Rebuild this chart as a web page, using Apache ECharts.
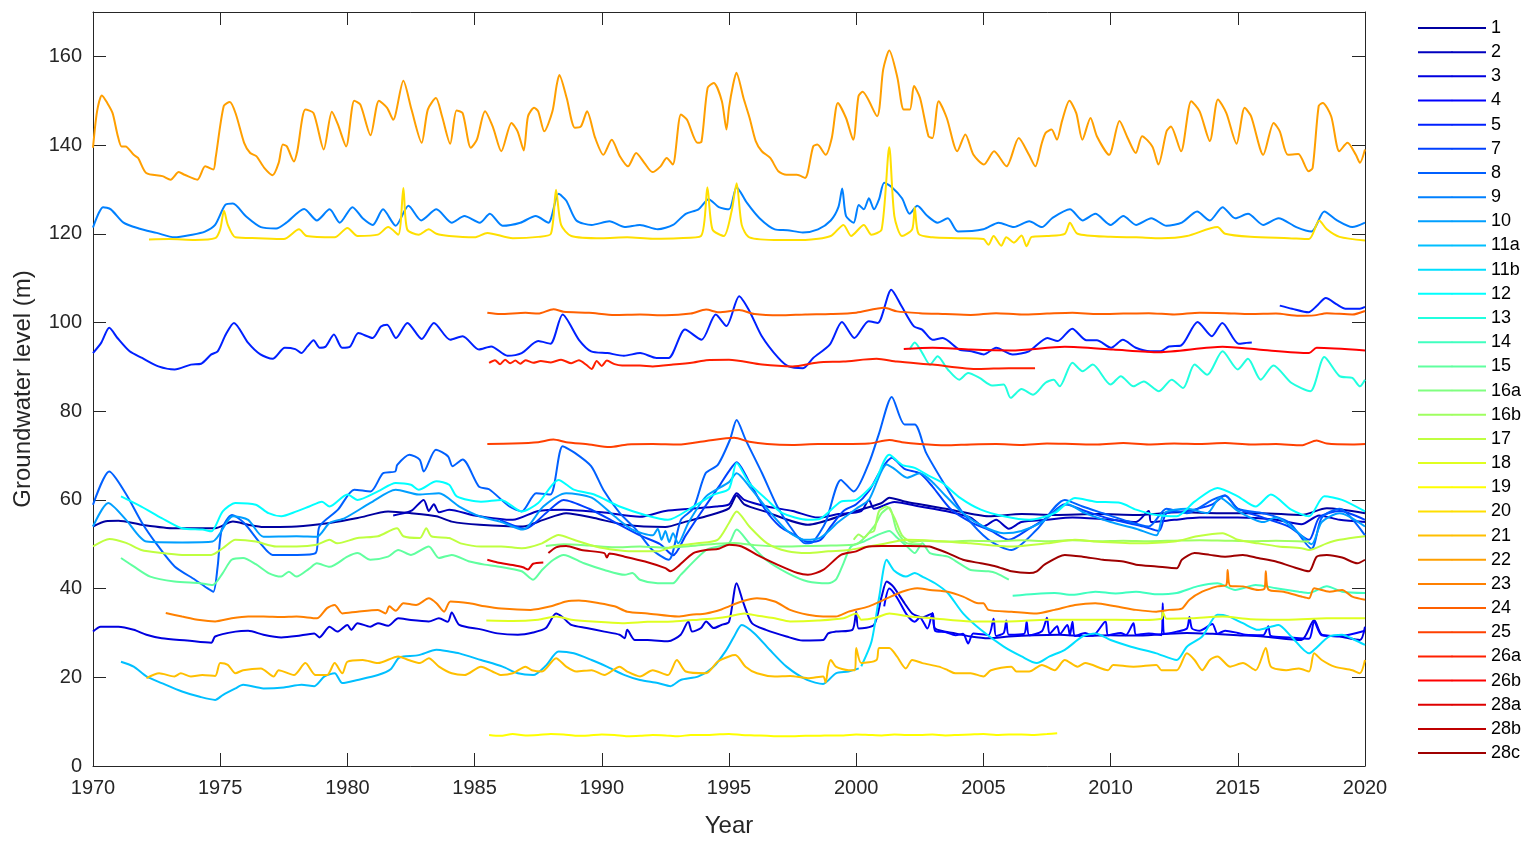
<!DOCTYPE html>
<html>
<head>
<meta charset="utf-8">
<script src="https://cdn.jsdelivr.net/npm/echarts@6/dist/echarts.min.js"></script>
<style>
html,body{margin:0;padding:0;background:#fff}
#chart{width:1536px;height:843px}
</style>
</head>
<body>
<div id="chart"></div>
<script>
// Well names, in legend order
const wellNames = ['1','2','3','4','5','7','8','9','10','11a','11b','12','13','14','15','16a','16b','17','18','19','20','21','22','23','24','25','26a','26b','28a','28b','28c'];

// Year ticks and level ticks
const yearTicks = [1970,1975,1980,1985,1990,1995,2000,2005,2010,2015,2020];
const levelTicks = [0,20,40,60,80,100,120,140,160];

// Groundwater level series: [year, level (m)]
const w1 = [[1970,54.0],[1970.5,55.2],[1971,55.3],[1971.9,54.4],[1973.2,53.6],[1974.8,53.6],[1975.5,55.1],[1976.1,54.4],[1976.7,53.9],[1978,54.0],[1979.3,54.8],[1980.4,55.9],[1981.6,57.4],[1982.5,57.0],[1983.5,56.3],[1984.1,55.1],[1985.2,54.4],[1986.9,54.0],[1987.7,55.5],[1988.6,57.0],[1989.7,55.9],[1990.9,54.4],[1992.5,53.9],[1993.3,55.1],[1994.1,56.3],[1995.0,58.1],[1995.3,61.0],[1995.6,59],[1996.4,57.4],[1998.1,54.4],[1999.7,57.0],[2001.0,59.3],[2001.3,60.5],[2002,59.5],[2003.7,57.8],[2005.2,56.3],[2006.5,56.8],[2007.8,56.6],[2009.5,56.8],[2011,56.6],[2012.7,57.2],[2014.3,57.0],[2015.9,57.0],[2017.5,56.6],[2018.5,58.1],[2020,57.0]];
const w2 = [[1981.8,56.5],[1982.5,57.5],[1983,60.0],[1983.2,57.5],[1983.4,59],[1983.6,57.2],[1984,57.8],[1985,56.5],[1986.5,55.5],[1987.5,57.5],[1988.5,57.8],[1990,57.2],[1991.5,56.2],[1992.5,57.5],[1993.5,58.0],[1994.5,58.5],[1995.0,59.0],[1995.3,61.5],[1995.6,60],[1996.5,58.5],[1997.5,57.5],[1998.5,56.0],[1999.3,56.8],[2000.2,57.5],[2000.5,60.0],[2000.7,58],[2001.5,59.5],[2002.5,58.5],[2003.5,57.5],[2004.5,56],[2005,54],[2005.5,55.5],[2006,53.5],[2006.5,55.0],[2007.5,55.5],[2008.5,56],[2010,55.5],[2011,55.0],[2011.5,57.5],[2011.6,55],[2012.5,55.5],[2013.5,56],[2015,56],[2016.5,55.5],[2017.5,54.5],[2018.2,56.5],[2019,55.5],[2020,55.0]];
const w3 = [[1970,30.3],[1970.3,31.4],[1971,31.4],[1971.6,30.7],[1972.1,29.6],[1972.7,28.8],[1973.7,28.3],[1974.65,27.8],[1974.8,29.2],[1975.6,30.3],[1976.1,30.5],[1976.7,29.6],[1977.4,29.0],[1978,29.3],[1978.7,29.9],[1978.9,29.0],[1979.3,31.4],[1979.6,30.3],[1980,31.8],[1980.15,30.7],[1980.4,32.2],[1980.9,31.4],[1981.2,32.2],[1981.6,31.6],[1982,33.3],[1982.5,32.9],[1983.2,32.6],[1983.6,33.3],[1983.95,32.5],[1984.1,34.6],[1984.4,31.8],[1985.25,30.8],[1985.9,29.9],[1986.7,29.6],[1987.3,30.1],[1987.8,31.1],[1988.2,34.4],[1988.45,33.6],[1988.8,31.8],[1989.4,31.1],[1990.1,30.3],[1990.7,29.6],[1990.9,28.8],[1991.0,30.7],[1991.3,28.4],[1991.8,28.4],[1992.6,28.1],[1993.1,29.6],[1993.4,32.6],[1993.55,30.3],[1993.9,31.1],[1994.1,32.6],[1994.4,31.1],[1994.7,31.8],[1995.0,32.5],[1995.3,41.2],[1995.57,36.7],[1995.9,32.2],[1996.45,30.7],[1997.26,29.2],[1997.9,28.3],[1998.7,28.4],[1998.9,29.9],[1999.2,30.3],[1999.85,30.7],[2000.0,34.8],[2000.1,31.0],[2000.7,31.8],[2001.0,38.2],[2001.2,41.6],[2001.45,40.5],[2001.9,36.7],[2002.2,34.4],[2002.6,33.5],[2003.0,34.4],[2003.1,31.0],[2003.9,29.9],[2004.5,29.2],[2005.2,28.8],[2006,29.2],[2007,29.5],[2008,29.6],[2009,29.3],[2010,29.5],[2011,29.4],[2012,29.7],[2013,30.0],[2014,29.8],[2015,29.5],[2016,29.2],[2017.5,28.4],[2018.0,32.9],[2018.3,29.6],[2019,29.2],[2019.8,28.4],[2020,31.4]];
const w4 = [[2001.1,36],[2001.3,40],[2001.6,38],[2002.0,34],[2002.3,32.5],[2002.5,33.5],[2002.8,31],[2003.0,34.5],[2003.1,30.5],[2003.5,30.2],[2003.9,29.5],[2004.2,29.8],[2004.4,27.6],[2004.6,29.9],[2005.2,29.5],[2005.4,33.2],[2005.5,29.3],[2005.8,30],[2005.9,32.8],[2006,29.6],[2006.6,29.8],[2006.7,32.5],[2006.8,29.5],[2007.3,30.4],[2007.5,33.4],[2007.6,29.8],[2007.9,31.5],[2008.0,29.7],[2008.3,31.8],[2008.4,29.5],[2008.5,32.5],[2008.6,29.3],[2009.0,30],[2009.3,29.4],[2009.8,32.6],[2009.9,29.5],[2010.4,30],[2010.6,29.5],[2010.9,32.2],[2011,29.6],[2011.5,29.9],[2012.0,29.5],[2012.05,36.7],[2012.1,29.8],[2012.6,30.3],[2013.0,31],[2013.1,33.6],[2013.2,31],[2013.5,30.5],[2014,32],[2014.2,29.8],[2014.5,30.5],[2015,30],[2015.3,29.6],[2016,29.5],[2016.2,31.5],[2016.3,29.3],[2017,29],[2017.8,28.7],[2018.0,32.6],[2018.3,29.5],[2019,29.3],[2020,30.5]];
const w5 = [[1970,93.1],[1970.32,95.4],[1970.64,98.8],[1970.96,96.5],[1971.44,93.5],[1971.93,92.0],[1972.57,90.1],[1973.21,89.4],[1973.85,90.5],[1974.25,90.7],[1974.65,92.8],[1974.9,93.5],[1975.22,97.3],[1975.54,99.9],[1976.1,95.4],[1976.58,92.8],[1977.06,91.8],[1977.54,94.3],[1977.95,94.0],[1978.19,93.1],[1978.43,94.6],[1978.67,96.0],[1978.91,94.3],[1979.15,94.6],[1979.47,97.3],[1979.79,94.3],[1980.11,94.6],[1980.43,97.6],[1980.99,96.5],[1981.32,99.1],[1981.56,99.5],[1981.91,96.5],[1982.36,99.9],[1982.92,96.3],[1983.4,99.9],[1984.04,96.1],[1984.53,96.9],[1985.17,93.9],[1985.65,94.6],[1986.29,92.5],[1986.85,93.1],[1987.5,95.8],[1987.98,95.2],[1988.46,101.8],[1989.1,96.1],[1989.58,93.5],[1990.22,93.1],[1990.87,92.5],[1991.51,93.1],[1992.15,92.0],[1992.63,92.0],[1993.27,98.4],[1993.92,96.1],[1994.48,101.8],[1994.9,99.2],[1995.4,105.9],[1995.81,102.5],[1996.29,96.9],[1996.94,92.0],[1997.34,90.1],[1997.91,89.7],[1998.31,92.0],[1998.96,95.0],[1999.44,100.1],[1999.93,96.5],[2000.49,100.3],[2000.85,99.9],[2001.38,107.4],[2001.78,103.7],[2002.27,99.1],[2002.59,98.4],[2003.0,96.1],[2003.4,96.5],[2004.05,93.9],[2004.53,93.5],[2005.02,92.8],[2005.5,94.3],[2006.15,92.8],[2006.79,93.5],[2007.52,96.5],[2007.92,95.8],[2008.49,98.6],[2009.05,96.0],[2009.46,96.0],[2010.02,94.3],[2010.48,96.1],[2010.99,94.3],[2011.56,93.5],[2011.96,93.5],[2012.29,94.6],[2012.77,94.8],[2013.42,100.1],[2013.98,96.9],[2014.39,99.9],[2015.03,95.2],[2015.35,95.4],[2015.55,95.5],[2016.1,null],[2016.65,103.8],[2017.13,103.1],[2017.78,102.3],[2018.1,103.7],[2018.46,105.5],[2018.91,104.0],[2019.23,103.1],[2019.8,103.1],[2020,103.5]];
const w7 = [[1986.0,55.5],[1987,53.5],[1987.8,57],[1988.5,60],[1989.5,58],[1990.5,55],[1991.5,52],[1992.3,50],[1992.8,47.5],[1993.3,52],[1994.0,58],[1994.6,63],[1995.0,66.5],[1995.3,68.5],[1995.8,64],[1996.4,58],[1997.0,54],[1997.6,52],[1998.1,50.5],[1998.6,51],[1999.0,54],[1999.5,57.5],[2000.0,59],[2000.5,62],[2001.0,67],[2001.4,69.5],[2001.9,67],[2002.5,66],[2003.0,63],[2003.7,58],[2004.5,55],[2005.3,53],[2006.0,51],[2006.8,53.5],[2007.5,56],[2008.2,59],[2009.0,57.5],[2009.8,56],[2010.5,55],[2011.3,54],[2011.9,53],[2012.2,57],[2013,57.5],[2014,59],[2014.5,61],[2015,58],[2016,56],[2017,54],[2017.8,51],[2018.2,56],[2019,57.5],[2020,55.5]];
const w8 = [[1970,58.9],[1970.64,66.4],[1971.28,61.5],[1971.93,54.8],[1972.57,49.5],[1973.21,45.0],[1974.01,42.0],[1974.49,40.1],[1974.73,39.3],[1974.9,45.0],[1975.06,53.3],[1975.46,56.6],[1975.94,54.8],[1976.58,50.2],[1977.06,47.6],[1978.03,47.6],[1978.75,48.0],[1978.9,54.0],[1979.63,57.8],[1980.27,62.3],[1980.91,61.9],[1981.4,66.0],[1981.88,66.4],[1981.96,67.9],[1982.44,70.2],[1982.84,69.1],[1983.0,66.4],[1983.48,71.3],[1983.96,69.8],[1984.13,67.6],[1984.53,69.1],[1985.17,63.0],[1985.57,62.4],[1986.37,58.5],[1986.85,57.4],[1987.42,61.5],[1987.98,61.2],[1988.46,72.1],[1988.94,70.6],[1989.58,67.6],[1990.06,62.3],[1990.71,57.0],[1991.35,53.3],[1991.99,48.7],[1992.63,46.5],[1993.11,55.5],[1993.6,58.1],[1994.08,66.0],[1994.56,67.9],[1995.04,73.6],[1995.3,78.0],[1995.65,73.6],[1996.3,66.0],[1996.9,58.5],[1997.4,54.0],[1998.0,50.2],[1998.3,50.5],[1998.8,55],[1999.4,64.5],[1999.9,61.9],[2000.5,68.3],[2000.9,75],[2001.4,83.2],[2001.9,77],[2002.3,77.0],[2002.75,70.6],[2003.6,62.3],[2004.2,57.0],[2005.2,51.0],[2006.1,48.7],[2007.1,53.3],[2008.2,60.0],[2008.9,58.5],[2009.7,57],[2010.5,55.5],[2011.5,54],[2012.2,58],[2013,57],[2014,60],[2014.5,61],[2015,58],[2016,57],[2017,55],[2017.9,49],[2018.3,56],[2019,58],[2020,52]];
const w9 = [[1970,121.4],[1970.4,126.0],[1970.7,125.5],[1971.2,122.5],[1971.8,121.2],[1972.5,120.2],[1973.2,119.2],[1973.9,119.8],[1974.4,120.5],[1974.8,122.0],[1975.2,126.5],[1975.5,126.8],[1976.0,124.0],[1976.6,121.5],[1977.2,121.2],[1977.6,122.5],[1978.3,125.6],[1978.8,123.0],[1979.3,125.5],[1979.7,122.5],[1980.2,126.0],[1980.6,123.5],[1981.0,122.0],[1981.4,125.5],[1981.9,121.8],[1982.4,126.3],[1982.9,123.0],[1983.5,125.5],[1984.1,122.5],[1984.6,124.0],[1985.2,122.5],[1985.6,124.5],[1986.1,121.8],[1986.8,122.5],[1987.4,124.0],[1987.9,122.5],[1988.3,129.0],[1988.6,127.5],[1989.0,123.0],[1989.6,122.0],[1990.3,122.8],[1990.9,121.5],[1991.5,122.0],[1992.2,121.0],[1992.8,122.0],[1993.3,124.5],[1993.8,125.5],[1994.2,127.8],[1994.6,126.0],[1995.0,125.5],[1995.3,130.5],[1995.7,127.0],[1996.2,123.5],[1996.8,121.0],[1997.3,120.8],[1997.9,120.3],[1998.5,121.0],[1999.0,123.0],[1999.3,126.0],[1999.45,130.2],[1999.6,124.0],[1999.9,122.5],[2000.1,126.5],[2000.3,125.5],[2000.5,128.0],[2000.7,125.5],[2000.9,127.8],[2001.1,131.5],[2001.4,130.5],[2001.8,128.0],[2002.1,124.5],[2002.4,126.3],[2002.8,124.0],[2003.2,122.5],[2003.6,123.5],[2004.0,120.5],[2005,121],[2005.6,122.5],[2006.2,121.5],[2006.8,122.8],[2007.3,121.5],[2007.7,123.5],[2008.4,125.5],[2008.9,123],[2009.4,124.5],[2010,122],[2010.5,124],[2011,122],[2011.6,123.5],[2012.2,121.8],[2012.8,122.5],[2013.4,125],[2013.9,123],[2014.4,126],[2014.9,123.5],[2015.4,124.5],[2016,122],[2016.6,123.5],[2017.3,121.5],[2017.9,120.5],[2018.4,125],[2018.9,123],[2019.5,121.5],[2020,122.5]];
const w10 = [[1970,54],[1970.6,59.3],[1971.3,55.5],[1972.1,50.6],[1973.5,50.4],[1974.7,50.6],[1975.5,56.3],[1976.1,55.5],[1976.7,51.7],[1978,51.8],[1978.8,51.7],[1979.3,54.8],[1979.9,55.9],[1980.9,59.3],[1981.9,62.3],[1982.8,61.2],[1983.6,61.5],[1984.4,58.5],[1985.2,56.3],[1986,55.1],[1986.9,53.3],[1987.7,58.5],[1988.6,61.5],[1989.6,60.5],[1990.5,56.3],[1991.2,53.3],[1992,52],[1992.2,53.5],[1992.35,51],[1992.5,53],[1992.65,50.5],[1992.8,52.5],[1993,50.2],[1993.4,54.8],[1994.1,60.8],[1995,64],[1995.3,66],[1995.8,63],[1996.5,58],[1997.3,53],[1998,51],[1998.6,51.5],[1999.3,55],[2000,58],[2000.5,60],[2001.2,68],[2001.5,67],[2002,65],[2002.5,66],[2003,64],[2003.5,61],[2004.2,57],[2005,54],[2005.8,52.5],[2006.5,53],[2007.3,55],[2008.3,59],[2009,57],[2010,55],[2011,53.5],[2011.8,52],[2012.1,57],[2013,58],[2013.8,57],[2014.3,60.5],[2015,57.5],[2016,55],[2016.5,56],[2017.3,53],[2017.9,50],[2018.3,55],[2019,57],[2020,54]];
const w11a = [[1971.1,23.5],[1971.6,22.4],[1972.1,20.2],[1972.7,18.7],[1973.5,16.8],[1974.2,15.6],[1974.8,14.9],[1975.1,16.0],[1975.6,17.5],[1975.9,18.3],[1976.7,17.5],[1977.5,17.7],[1978.2,18.3],[1978.7,18.0],[1979.1,20.2],[1979.5,20.9],[1979.8,18.7],[1980.4,19.4],[1981.2,20.5],[1981.7,21.8],[1982.0,24.3],[1982.2,24.7],[1982.8,25.0],[1983.5,26.2],[1984.0,25.8],[1984.4,25.4],[1985.25,23.9],[1986.1,22.4],[1986.7,20.9],[1987.3,20.5],[1987.8,22.6],[1988.3,25.8],[1988.9,25.4],[1989.6,23.9],[1990.2,22.4],[1990.9,20.5],[1991.5,19.4],[1992.2,18.7],[1992.7,18.0],[1993.1,19.4],[1993.8,20.2],[1994.4,22.4],[1994.9,26.2],[1995.2,29.2],[1995.5,31.8],[1996.0,29.9],[1996.6,26.2],[1997.26,22.4],[1998.07,19.4],[1998.7,18.5],[1999.2,20.9],[1999.7,21.3],[2000.1,22.0]];
const w11b = [[2000.2,22.5],[2000.6,28],[2000.9,38],[2001.2,46.5],[2001.5,44],[2001.95,42.7],[2002.3,43.5],[2002.6,42.7],[2003.1,41.2],[2003.6,39.0],[2004.2,34.4],[2004.9,30.7],[2005.8,26.9],[2006.5,24.7],[2007.1,23.2],[2007.6,24.7],[2008.2,26.2],[2008.9,29.2],[2009.4,29.9],[2010.0,28.4],[2010.8,26.9],[2011.8,25.4],[2012.6,23.9],[2013.0,26.9],[2013.6,29.2],[2014.2,34.1],[2014.6,33.8],[2015.2,32.2],[2015.8,30.7],[2016.3,31.4],[2016.6,31.8],[2017.1,29.2],[2017.8,25.4],[2018.0,26.2],[2018.6,29.2],[2019.1,29.6],[2019.6,28.4],[2020,27.3]];
const w12 = [[1971.1,60.8],[1971.9,58.5],[1972.7,55.9],[1973.5,53.6],[1974.3,53.3],[1974.65,52.9],[1975.1,57.4],[1975.6,59.3],[1976.4,58.9],[1976.9,57.0],[1977.4,56.3],[1978.0,57.4],[1978.5,58.5],[1979.0,59.6],[1979.3,58.5],[1980.0,61.2],[1980.4,60.0],[1981.2,61.9],[1981.9,63.8],[1982.5,63.4],[1982.8,62.3],[1983.5,64.2],[1984.0,63.4],[1984.3,60.8],[1985.25,59.6],[1986.05,60.0],[1986.85,57.4],[1987.5,59.3],[1988.3,64.5],[1988.9,62.3],[1989.7,61.2],[1990.7,58.5],[1991.7,56.6],[1992.6,55.5],[1993.6,58.5],[1994.4,61.2],[1995.0,62.5],[1995.3,68.3],[1995.8,63.8],[1996.5,60.0],[1997.1,57.0],[1998.1,55.5],[1998.6,55.8],[1999.4,59.6],[2000.0,60.0],[2000.7,63.8],[2001.3,70.2],[2001.8,67.9],[2002.3,67.2],[2002.9,65.3],[2003.4,63.8],[2004.1,60.4],[2004.9,57.8],[2005.8,56.3],[2006.8,55.5],[2007.8,57.0],[2008.6,60.4],[2009.4,59.6],[2010.4,59.3],[2011,57.8],[2011.8,56.6],[2012.6,56.3],[2013.3,59.6],[2014.2,62.7],[2015.0,60.8],[2015.7,58.5],[2016.3,61.2],[2017.1,57.8],[2017.8,56.3],[2018.4,60.8],[2019.1,60.0],[2020,57.4]];
const w13 = [[2002.1,93.9],[2002.3,95.5],[2002.6,93.1],[2002.9,90.5],[2003.2,92.4],[2003.6,89.4],[2004.05,87.1],[2004.4,88.6],[2004.85,87.5],[2005.34,85.8],[2005.8,86.0],[2006.07,83.0],[2006.5,85.0],[2006.95,83.7],[2007.44,86.4],[2007.76,87.1],[2008.0,85.6],[2008.5,90.9],[2008.9,89.0],[2009.3,90.5],[2010.0,86.0],[2010.4,87.9],[2010.9,85.6],[2011.3,86.7],[2011.9,84.5],[2012.4,87.1],[2012.85,85.2],[2013.3,90.5],[2013.8,88.2],[2014.4,93.5],[2015.0,89.4],[2015.4,91.8],[2015.9,87.1],[2016.4,90.3],[2017.1,86.4],[2017.85,84.5],[2018.4,92.2],[2019.0,87.9],[2019.5,87.5],[2019.8,85.6],[2020,87.1]];
const w14 = [[2006.15,38.4],[2007,38.8],[2007.8,39.0],[2008.5,38.6],[2009.4,39.3],[2010.2,38.9],[2011,39.3],[2011.8,38.7],[2012.6,39.0],[2013.4,40.5],[2014.2,41.2],[2014.9,39.7],[2015.7,40.8],[2016.5,40.1],[2017.4,39.3],[2017.8,39.0],[2018.5,40.5],[2019.1,39.3],[2020,39.0]];
const w15 = [[1971.1,46.9],[1971.6,45.0],[1972.25,42.7],[1973.2,41.6],[1974.2,41.2],[1974.7,40.8],[1975.1,43.5],[1975.45,46.5],[1975.9,46.9],[1976.4,45.5],[1976.9,43.5],[1977.4,42.7],[1977.7,43.8],[1978.0,42.7],[1978.5,44.5],[1978.8,45.7],[1979.3,44.9],[1980.0,47.2],[1980.4,48.0],[1980.9,46.5],[1981.6,47.2],[1982.0,48.7],[1982.5,47.6],[1983.2,49.5],[1983.6,46.9],[1984.1,47.6],[1984.8,46.1],[1985.4,45.4],[1985.9,45.0],[1986.85,43.9],[1987.3,42.0],[1987.65,44.2],[1988.1,46.5],[1988.5,47.6],[1989.3,45.7],[1990.1,44.2],[1990.9,43.1],[1991.2,43.5],[1991.5,42.0],[1992.2,41.2],[1992.8,41.2],[1993.1,43.1],[1994.1,48.7],[1994.6,49.5],[1995.0,50.2],[1995.3,53.3],[1995.8,50.2],[1996.45,46.5],[1997.3,43.5],[1998.1,41.6],[1998.9,41.2],[1999.2,42.0],[1999.5,45.7],[1999.8,49.5],[2000.3,50.6],[2000.8,52.0],[2001.3,53.0],[2001.6,51.5],[2002.0,49.5],[2002.3,48.0],[2002.6,50.2],[2002.9,48.0],[2003.6,47.2],[2004.05,45.7],[2004.5,44.2],[2005.2,43.9],[2005.5,43.5],[2006.0,42.0]];
const w16a = [[1987.8,49.6],[1988.5,50.0],[1989.5,49.7],[1990.5,49.3],[1991.5,49.5],[1992.5,49.2],[1993.5,49.6],[1994.5,50.1],[1995.2,50.3],[1996,49.8],[1997,49.5],[1998,49.6],[1999,49.7],[2000,50.0],[2000.7,54.0],[2001.0,57.0],[2001.3,58.3],[2001.6,53],[2002,50.2],[2002.6,50.0]];
const w16b = [[1999.9,51.0],[2000.1,52.2],[2000.3,51.5],[2000.5,52.5],[2000.7,53],[2000.9,57.5],[2001.2,58.5],[2001.5,56],[2001.8,52],[2002.2,50.5],[2002.6,50.8],[2003.5,50.6],[2004.5,50.8],[2005.5,50.7],[2006.5,50.9],[2007.5,50.7],[2008.5,50.9],[2009.5,50.7],[2010.5,50.8],[2011.5,50.7],[2012.5,50.8],[2013.5,50.9],[2014.5,50.8],[2015.5,50.7],[2016.5,50.8],[2017.8,50.6]];
const w17 = [[1970,49.5],[1970.65,51.2],[1971.3,50.3],[1971.9,48.7],[1972.7,48.0],[1973.5,47.6],[1974.65,47.6],[1975.1,49.1],[1975.6,51.0],[1976.4,50.6],[1977.2,49.5],[1978.0,49.5],[1978.8,49.9],[1979.3,51.0],[1979.6,50.2],[1980.4,51.4],[1981.2,51.8],[1981.95,53.6],[1982.2,51.8],[1982.85,51.4],[1983.1,53.6],[1983.3,51.8],[1984.0,51.4],[1984.45,50.2],[1985.25,49.5],[1986.05,49.5],[1986.85,49.1],[1987.65,50.2],[1988.3,52.1],[1988.9,51.0],[1989.75,49.5],[1990.55,48.7],[1991.2,48.4],[1992.2,48.4],[1992.8,49.5],[1993.75,50.2],[1994.55,51.0],[1995.0,54.8],[1995.3,57.4],[1995.8,54.0],[1996.5,50.2],[1997.3,48.4],[1998.1,48.0],[1998.9,48.4],[1999.7,48.7],[2000.3,49.3],[2001,50],[2002,51.0],[2003,50.8],[2004.5,50.2],[2006.1,49.5],[2007.5,50.2],[2008.6,51.0],[2009.4,50.6],[2011,50.2],[2012.5,50.6],[2013.4,51.8],[2014.4,52.5],[2015.0,51.0],[2015.8,50.2],[2016.6,49.5],[2017.5,49.1],[2017.8,48.7],[2018.5,50.2],[2019,51.0],[2020,51.8]];
const w18 = [[1985.46,32.8],[1986.5,32.7],[1987.5,33.0],[1988.2,33.7],[1988.8,33.0],[1989.8,32.5],[1990.8,32.2],[1991.8,32.5],[1992.8,32.6],[1993.8,33.0],[1994.5,33.3],[1995.0,33.7],[1995.6,34.4],[1996.2,33.8],[1996.8,33.3],[1997.4,32.6],[1998.5,32.8],[1999.5,33.3],[2000.0,34.4],[2000.2,33.0],[2000.8,33.5],[2001.3,34.4],[2002.1,33.7],[2003,33.3],[2004.5,32.6],[2006,32.6],[2007.5,33.0],[2009.4,33.0],[2011,32.9],[2012,33.2],[2012.05,34.8],[2012.2,33.2],[2013.2,33.3],[2014.4,33.7],[2015.5,33.1],[2017,33.0],[2018.5,33.3],[2020,33.3]];
const w19 = [[1985.57,7.0],[1986.0,6.8],[1986.5,7.2],[1987.0,6.9],[1987.5,7.0],[1988.0,7.2],[1988.5,7.1],[1989.0,6.8],[1989.5,6.9],[1990.0,7.1],[1990.5,7.0],[1991.0,6.7],[1991.5,6.8],[1992.0,7.0],[1992.5,6.9],[1993.0,6.7],[1993.5,7.0],[1994.0,7.0],[1994.5,7.1],[1995.0,7.2],[1995.5,7.0],[1996.0,6.9],[1996.5,6.8],[1997.0,6.7],[1997.5,6.7],[1998.0,6.8],[1998.5,6.8],[1999.0,6.9],[1999.5,6.9],[2000.0,7.1],[2000.5,7.0],[2001.0,6.9],[2001.5,7.1],[2002.0,7.0],[2002.5,7.0],[2003.0,7.1],[2003.5,6.9],[2004.0,7.0],[2004.5,7.1],[2005.0,7.2],[2005.5,7.0],[2006.0,7.1],[2006.5,7.1],[2007.0,7.0],[2007.5,7.2],[2007.9,7.4]];
const w20 = [[1972.2,118.7],[1973,118.8],[1974,118.6],[1974.8,119.0],[1975.0,121],[1975.15,125.2],[1975.3,122],[1975.6,119.2],[1976.5,119.0],[1977.5,118.8],[1978.1,121.0],[1978.4,119.5],[1979.5,119.2],[1980.0,121.3],[1980.4,119.5],[1981.2,119.8],[1981.6,121.5],[1982.0,119.8],[1982.2,130.3],[1982.35,121],[1982.8,119.8],[1983.2,121.0],[1983.5,120.0],[1984,119.5],[1985,119.2],[1985.5,120.2],[1986.5,119.0],[1987.5,119.3],[1988.0,120],[1988.2,129.9],[1988.4,122],[1988.8,119.5],[1990,119.0],[1991,119.2],[1992,118.9],[1993,119.0],[1993.9,119.5],[1994.15,130.5],[1994.35,121],[1994.8,119.5],[1995.1,125],[1995.3,131.4],[1995.5,122],[1995.8,119.2],[1997,118.6],[1998,118.6],[1999,119.5],[1999.5,122.0],[1999.8,119.5],[2000.3,122.0],[2000.6,119.8],[2001.0,121],[2001.3,139.5],[2001.5,124],[2001.8,119.5],[2002.2,121],[2002.3,126],[2002.45,120],[2003,119.2],[2004,119.0],[2005,118.8],[2005.2,117.5],[2005.4,119.5],[2005.7,117.3],[2005.9,119.2],[2006.2,118.0],[2006.5,119.6],[2006.7,117.2],[2006.9,119.3],[2007.5,119.5],[2008.2,120],[2008.4,122.5],[2008.7,120],[2010,119.3],[2011,119.2],[2012,119.0],[2013,119.5],[2014.2,121.5],[2014.5,120],[2015.5,119.3],[2017,119.0],[2017.8,118.8],[2018.2,123.0],[2018.5,121],[2019,119.3],[2020,118.5]];
const w21 = [[1972.1,19.8],[1972.6,20.9],[1973.2,20.2],[1973.45,20.9],[1973.85,20.2],[1974.3,20.5],[1974.8,20.3],[1975.0,23.2],[1975.3,22.8],[1975.6,20.9],[1975.9,21.6],[1976.6,22.0],[1977.1,20.2],[1977.3,21.6],[1977.9,20.5],[1978.35,23.2],[1978.75,20.5],[1979.2,20.5],[1979.5,23.2],[1979.8,20.9],[1980.0,23.5],[1980.6,23.9],[1981.2,23.2],[1982.0,24.7],[1982.4,23.9],[1982.85,23.2],[1983.2,24.3],[1983.6,22.4],[1984.1,20.9],[1984.6,20.5],[1985.25,22.4],[1985.7,21.3],[1986.05,20.5],[1986.5,20.9],[1987.0,22.4],[1987.25,21.6],[1987.65,21.3],[1988.2,24.3],[1988.6,22.4],[1989.0,21.3],[1989.6,21.6],[1990.1,20.5],[1990.7,22.4],[1991.0,21.3],[1991.5,20.2],[1992.0,21.6],[1992.6,20.5],[1992.95,23.9],[1993.3,21.3],[1994.1,20.9],[1994.55,23.5],[1995.0,24.7],[1995.25,25.0],[1995.65,22.4],[1996.1,20.9],[1996.8,20.2],[1997.4,20.3],[1998.1,19.8],[1998.7,20.2],[1998.8,18.8],[1998.9,22.4],[1999.0,23.9],[1999.2,22.4],[1999.7,21.6],[1999.95,21.6],[2000.0,26.6],[2000.2,23.2],[2000.8,23.9],[2000.9,26.6],[2001.3,26.6],[2001.6,24.7],[2001.95,22.0],[2002.2,23.9],[2002.6,23.2],[2003.25,22.4],[2003.6,21.6],[2003.9,20.9],[2004.5,20.9],[2005.0,20.2],[2005.3,21.6],[2006.1,22.4],[2006.3,21.3],[2006.8,21.3],[2007.3,22.8],[2007.8,21.6],[2008.2,23.9],[2008.7,22.4],[2009.0,23.2],[2009.9,21.6],[2010.1,22.8],[2010.9,22.4],[2011.8,22.8],[2012.0,21.6],[2012.6,21.6],[2013.0,25.4],[2013.3,23.9],[2013.6,21.6],[2013.9,23.9],[2014.2,24.7],[2014.7,22.4],[2015.2,23.2],[2015.7,21.6],[2016.1,26.6],[2016.3,22.4],[2016.9,21.6],[2017.4,22.0],[2017.8,21.3],[2018.0,25.4],[2018.3,23.9],[2018.8,22.4],[2019.5,21.6],[2019.8,20.9],[2020,23.9]];
const w22 = [[1970.0,139.4],[1970.16,147.6],[1970.35,151.2],[1970.56,149.5],[1970.77,147.2],[1970.96,142.4],[1971.12,139.7],[1971.28,139.7],[1971.6,137.8],[1971.77,137.1],[1972.09,133.7],[1972.73,133.0],[1973.05,132.2],[1973.37,133.9],[1973.6,133.3],[1974.1,132.2],[1974.41,135.2],[1974.73,134.5],[1974.82,137.1],[1975.14,148.8],[1975.38,149.7],[1975.62,146.9],[1975.94,140.5],[1976.18,138.2],[1976.42,137.5],[1976.74,134.8],[1977.06,133.2],[1977.3,136.0],[1977.46,140.1],[1977.62,139.7],[1977.9,136.3],[1978.03,138.6],[1978.35,148.0],[1978.67,147.2],[1979.07,139.0],[1979.39,147.5],[1979.63,144.6],[1979.95,139.7],[1980.27,150.0],[1980.51,149.1],[1980.91,142.2],[1981.24,150.0],[1981.56,148.4],[1981.8,145.7],[1982.2,154.5],[1982.52,148.0],[1982.92,140.5],[1983.16,148.0],[1983.48,150.6],[1983.72,146.5],[1984.04,140.3],[1984.29,147.8],[1984.53,147.2],[1984.85,139.4],[1985.09,141.2],[1985.41,147.6],[1985.73,143.9],[1986.05,138.6],[1986.45,145.0],[1986.69,143.1],[1986.93,138.8],[1987.1,146.5],[1987.34,148.4],[1987.5,147.6],[1987.74,143.1],[1988.06,147.6],[1988.22,153.3],[1988.33,155.8],[1988.62,150.6],[1988.94,143.9],[1989.18,144.2],[1989.42,147.6],[1989.74,141.6],[1990.06,137.8],[1990.39,141.2],[1990.71,137.5],[1991.03,135.2],[1991.35,138.2],[1991.67,136.0],[1991.99,133.9],[1992.31,135.2],[1992.55,137.1],[1992.79,135.6],[1993.11,146.9],[1993.35,145.7],[1993.76,140.5],[1993.92,140.8],[1994.16,152.9],[1994.4,154.0],[1994.72,149.9],[1994.9,143.5],[1995.0,148.4],[1995.16,153.6],[1995.29,156.3],[1995.57,150.6],[1995.81,146.1],[1996.05,140.9],[1996.29,138.6],[1996.62,137.1],[1996.94,134.1],[1997.26,133.3],[1997.67,133.3],[1997.99,132.6],[1998.31,139.7],[1998.47,140.1],[1998.8,137.8],[1999.04,141.6],[1999.28,149.5],[1999.6,146.1],[1999.88,141.2],[2000.09,151.0],[2000.25,152.0],[2000.82,146.5],[2001.06,157.0],[2001.3,161.3],[2001.62,155.2],[2001.87,148.0],[2002.11,148.0],[2002.27,153.3],[2002.51,150.6],[2002.84,142.0],[2003.0,141.6],[2003.24,149.9],[2003.56,146.1],[2003.97,138.6],[2004.29,142.4],[2004.61,137.8],[2005.02,135.6],[2005.42,138.6],[2005.91,135.2],[2006.39,141.6],[2006.79,137.8],[2007.04,135.2],[2007.28,140.1],[2007.44,142.7],[2007.68,143.5],[2007.89,141.2],[2008.09,145.4],[2008.38,150.0],[2008.65,147.2],[2008.89,141.2],[2009.21,146.1],[2009.46,142.0],[2009.94,137.8],[2010.35,145.4],[2010.67,141.6],[2010.99,138.2],[2011.24,142.0],[2011.64,139.7],[2011.88,135.6],[2012.2,143.1],[2012.37,144.2],[2012.77,138.6],[2013.17,149.9],[2013.5,147.6],[2013.9,140.9],[2014.22,150.3],[2014.55,147.2],[2014.95,140.3],[2015.27,148.4],[2015.52,146.5],[2016.0,137.8],[2016.41,145.0],[2016.65,143.1],[2016.97,137.8],[2017.38,138.0],[2017.78,134.1],[2017.94,134.8],[2018.18,148.8],[2018.34,149.5],[2018.67,146.5],[2018.99,138.6],[2019.31,140.5],[2019.64,137.8],[2019.8,136.0],[2020.0,139.0]];
const w23 = [[1972.86,34.5],[1973.5,33.7],[1974.2,32.9],[1974.8,32.6],[1975.45,33.3],[1976.1,33.7],[1976.7,33.7],[1977.4,33.6],[1978.0,33.7],[1978.8,33.3],[1979.2,35.6],[1979.5,36.3],[1979.8,34.4],[1980.4,34.8],[1981.2,35.2],[1981.5,34.4],[1981.65,36.0],[1981.9,35.0],[1982.2,36.7],[1982.7,36.3],[1983.2,37.8],[1983.5,36.7],[1983.8,34.8],[1984.05,37.1],[1984.8,36.7],[1985.4,36.0],[1986.05,35.5],[1987.2,35.2],[1988.0,36.0],[1988.6,37.1],[1989.1,37.3],[1989.9,36.7],[1990.5,36.0],[1991.0,34.8],[1991.8,34.4],[1993.0,33.7],[1993.5,34.1],[1994.1,34.4],[1994.7,35.3],[1995.0,36.0],[1995.5,37.1],[1996.1,37.8],[1996.8,37.1],[1997.4,35.2],[1998.1,34.1],[1998.7,33.7],[1999.2,33.7],[1999.7,34.8],[2000.5,36.0],[2001.1,37.5],[2001.8,39.3],[2002.4,40.1],[2002.9,39.7],[2003.6,39.3],[2004.2,38.2],[2004.8,36.7],[2005.0,36.7],[2005.2,35.2],[2006.1,34.8],[2007.1,34.4],[2007.8,35.2],[2008.6,36.3],[2009.4,36.7],[2010.2,36.0],[2011.0,35.2],[2011.8,34.8],[2012.3,35.2],[2012.8,35.5],[2013.1,37.5],[2013.6,39.3],[2014.2,40.5],[2014.55,40.8],[2014.6,44.2],[2014.7,40.6],[2015.2,40.5],[2015.8,39.7],[2016.05,40.0],[2016.1,43.9],[2016.2,39.8],[2016.8,39.3],[2017.5,38.2],[2017.8,37.8],[2018.0,40.1],[2018.6,39.3],[2019.1,39.7],[2019.5,38.2],[2020,37.5]];
const w24 = [[1985.5,102.2],[1986,101.9],[1987,102.2],[1987.5,102.0],[1988.1,103.0],[1988.5,102.4],[1989.5,102.2],[1990.5,101.7],[1991.5,101.8],[1992.5,101.6],[1993.5,102.0],[1994.1,102.9],[1994.6,102.3],[1995.4,102.8],[1996,101.9],[1997,101.6],[1998,101.8],[1999,101.9],[2000,102.2],[2001.1,103.3],[2001.6,102.5],[2002.5,102.1],[2003.5,101.9],[2004.5,101.7],[2005.5,102.1],[2006.5,101.8],[2007.5,102.0],[2008.5,102.2],[2009.5,101.9],[2010.5,102.0],[2011.5,102.1],[2012.5,101.8],[2013.5,102.2],[2014.5,102.1],[2015.5,101.9],[2016.5,102.0],[2017.4,101.5],[2018,101.6],[2018.5,102.1],[2019.5,101.8],[2020,102.6]];
const w25 = [[1985.5,72.6],[1986.5,72.7],[1987.5,73.0],[1988.1,73.6],[1988.6,73.0],[1989.5,72.5],[1990.3,71.9],[1991,72.5],[1992,72.6],[1993,72.5],[1994.1,73.3],[1995.2,74.0],[1995.8,73.1],[1996.5,72.6],[1997.5,72.4],[1998.5,72.6],[1999.5,72.6],[2000.5,72.7],[2001.3,73.5],[2001.8,73.0],[2002.5,72.6],[2003.5,72.3],[2004.5,72.5],[2005.5,72.6],[2006.5,72.4],[2007.5,72.7],[2008.5,72.6],[2009.5,72.5],[2010.5,72.8],[2011.5,72.5],[2012.5,72.7],[2013.5,72.6],[2014.5,72.8],[2015.5,72.5],[2016.5,72.6],[2017.5,72.3],[2018.1,73.4],[2018.5,72.7],[2019.5,72.5],[2020,72.6]];
const w26a = [[1985.57,90.9],[1985.8,91.5],[1986.0,90.6],[1986.2,91.6],[1986.4,90.8],[1986.6,91.4],[1986.8,90.7],[1987.0,91.5],[1987.3,90.9],[1987.6,91.3],[1988.0,91.0],[1988.4,91.6],[1988.8,90.8],[1989.1,91.5],[1989.4,90.4],[1989.6,89.5],[1989.8,91.3],[1990.0,90.2],[1990.2,91.4],[1990.5,90.6],[1990.8,90.3],[1991.5,90.3],[1992.0,90.1],[1992.8,90.5],[1993.6,91.0],[1994.1,91.5],[1995.0,91.6],[1996.3,90.5],[1997.5,90.1],[1998.5,91.0],[1999.5,91.2],[2000.8,91.8],[2001.6,91.2],[2003.0,90.5],[2004.8,89.5],[2006.0,89.7],[2007.03,89.7]];
const w26b = [[2001.87,94.0],[2003.0,94.3],[2004.5,93.9],[2006.1,93.7],[2008.2,94.5],[2010.1,93.9],[2011.9,93.3],[2014.4,94.5],[2015.8,93.9],[2017.8,93.1],[2018.1,94.3],[2020,93.7]];
const w28a = [[1985.5,46.5],[1985.9,45.9],[1986.5,45.3],[1986.9,44.8],[1987.1,44.3],[1987.3,45.6],[1987.7,45.9]];
const w28b = [[1987.9,48.0],[1988.2,49.3],[1988.6,49.6],[1989.2,48.7],[1990.1,48.0],[1990.2,47.0],[1990.3,47.9],[1990.9,47.2],[1991.7,46.1],[1992.5,44.6],[1992.7,43.9],[1992.95,44.8],[1993.6,48.0],[1994.1,48.7],[1994.6,49.0],[1995.0,49.9],[1995.5,49.5],[1996.1,47.6],[1996.9,45.4],[1997.7,43.5],[1998.1,43.1],[1998.7,44.2],[1999.4,47.6],[2000.0,48.4],[2000.4,49.4],[2001.0,49.6],[2002.1,49.6],[2002.9,49.5]];
const w28c = [[2002.9,49.5],[2003.6,48.0],[2004.2,46.5],[2004.9,45.7],[2005.5,45.0],[2006.1,43.9],[2006.8,43.5],[2007.1,43.9],[2007.4,45.4],[2008.2,47.6],[2008.9,47.2],[2009.7,46.5],[2010.5,46.1],[2011.0,45.4],[2011.8,45.0],[2012.6,44.6],[2012.8,46.5],[2013.3,48.0],[2013.9,47.6],[2014.5,47.2],[2015.2,47.6],[2015.8,46.9],[2016.5,46.1],[2017.1,45.0],[2017.8,43.9],[2018.1,47.2],[2018.5,47.6],[2019.1,47.0],[2019.7,45.7],[2020,46.5]];

const wellData = [w1,w2,w3,w4,w5,w7,w8,w9,w10,w11a,w11b,w12,w13,w14,w15,w16a,w16b,w17,w18,w19,w20,w21,w22,w23,w24,w25,w26a,w26b,w28a,w28b,w28c];

// Line colours, blue to dark red
const wellColors = ['#0000A0','#0000BF','#0000DF','#0000FF','#0020FF','#0040FF','#0060FF','#0080FF','#009FFF','#00BFFF','#00DFFF','#00FFFF','#20FFDF','#40FFBF','#60FF9F','#80FF80','#9FFF60','#BFFF40','#DFFF20','#FFFF00','#FFDF00','#FFBF00','#FF9F00','#FF8000','#FF6000','#FF4000','#FF2000','#FF0000','#DF0000','#BF0000','#9F0000'];

const FONT = "'Liberation Sans', Arial, Helvetica, sans-serif";
const AXIS = '#262626';

const chart = echarts.init(document.getElementById('chart'), null, {renderer: 'canvas'});

const axisCommon = {
  axisLine: {show: true, onZero: false, lineStyle: {color: AXIS, width: 1}},
  axisTick: {show: true, inside: true, length: 13, lineStyle: {color: AXIS, width: 1}},
  splitLine: {show: false}
};

chart.setOption({
  animation: false,
  backgroundColor: '#ffffff',
  grid: {left: 93, top: 12, width: 1272, height: 754, containLabel: false},
  xAxis: [
    Object.assign({
      type: 'value', min: yearTicks[0], max: yearTicks[yearTicks.length - 1], interval: 5, position: 'bottom',
      axisLabel: {fontSize: 20, color: AXIS, fontFamily: FONT, margin: 12, formatter: v => String(v)},
      name: 'Year', nameLocation: 'middle', nameGap: 48,
      nameTextStyle: {fontSize: 24, color: AXIS, fontFamily: FONT}
    }, axisCommon),
    Object.assign({
      type: 'value', min: yearTicks[0], max: yearTicks[yearTicks.length - 1], interval: 5, position: 'top',
      axisLabel: {show: false}
    }, axisCommon)
  ],
  yAxis: [
    Object.assign({
      type: 'value', min: levelTicks[0], max: 170, interval: 20, position: 'left',
      axisLabel: {fontSize: 20, color: AXIS, fontFamily: FONT, margin: 11, showMaxLabel: false, formatter: v => String(v)},
      name: 'Groundwater level (m)', nameLocation: 'middle', nameGap: 58,
      nameTextStyle: {fontSize: 24, color: AXIS, fontFamily: FONT}
    }, axisCommon),
    Object.assign({
      type: 'value', min: levelTicks[0], max: 170, interval: 20, position: 'right',
      axisLabel: {show: false}
    }, axisCommon)
  ],
  legend: {
    orient: 'vertical', left: 1417, top: 19, padding: 0,
    itemWidth: 68, itemHeight: 2, itemGap: 6.17,
    textStyle: {fontSize: 18, lineHeight: 18, color: '#000', fontFamily: FONT},
    data: wellNames, selectedMode: false
  },
  series: wellNames.map((n, i) => ({
    name: n, type: 'line', xAxisIndex: 0, yAxisIndex: 0,
    data: wellData[i], showSymbol: false, symbol: 'none', silent: true,
    smooth: 0.25,
    lineStyle: {color: wellColors[i], width: 2},
    itemStyle: {color: wellColors[i]},
    emphasis: {disabled: true}
  }))
});
</script>
</body>
</html>
